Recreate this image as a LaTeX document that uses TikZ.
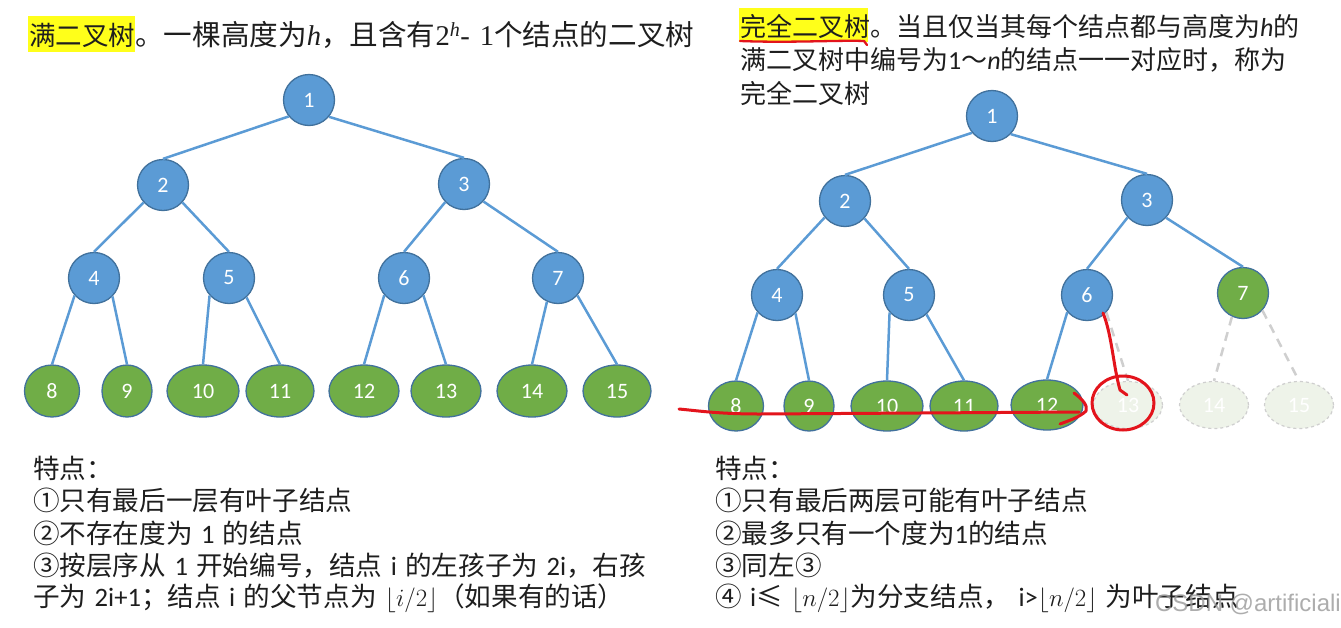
\documentclass[tikz,border=0pt]{standalone}
\usepackage{fontspec}
\setmainfont{Carlito}
\newfontfamily\cjk[WordSpace=1.4]{Noto Sans CJK SC}
\newfontfamily\lat{Carlito}
\newfontfamily\srf{Liberation Serif}
\newfontfamily\wmfont{Liberation Sans}
\usetikzlibrary{shapes.geometric}
\definecolor{nblue}{HTML}{5B9BD5}
\definecolor{nborder}{HTML}{41719C}
\definecolor{ngreen}{HTML}{70AD47}
\definecolor{fadefill}{HTML}{EEF3E9}
\definecolor{fadeline}{HTML}{CFCFCF}
\definecolor{txt}{HTML}{1E1E1E}
\definecolor{annot}{HTML}{E3141C}
\definecolor{hl}{HTML}{FFFF1A}
\tikzset{
 tn/.style={ellipse, draw=nborder, line width=1.3pt, inner sep=0pt, text=white,
   font=\lat\fontsize{22}{22}\selectfont},
 bn/.style={tn, fill=nblue, minimum width=51pt, minimum height=51pt},
 gn/.style={tn, fill=ngreen, minimum height=52pt},
 gnr/.style={tn, fill=ngreen, minimum height=50pt},
 fn/.style={ellipse, draw=fadeline, dashed, line width=1.2pt, fill=fadefill, text=white,
   inner sep=0pt, minimum height=47pt, minimum width=69pt, font=\lat\fontsize{22}{22}\selectfont},
 edge/.style={draw=nblue, line width=2.5pt},
 fedge/.style={draw=fadeline, line width=2.5pt, dash pattern=on 9pt off 7pt},
 body/.style={anchor=west, inner sep=0pt, text=txt, font=\cjk\fontsize{26}{26}\selectfont},
 feat/.style={anchor=west, inner sep=0pt, text=txt, font=\cjk\fontsize{26.6}{26.6}\selectfont},
 redmark/.style={draw=annot, line width=3pt, line cap=round, line join=round},
}
\begin{document}
\begin{tikzpicture}[x=1pt,y=-1pt]
\useasboundingbox (0,0) rectangle (1341,627);
\fill[white] (0,0) rectangle (1341,627);

% ---------- left title ----------
\fill[hl] (28,16) rectangle (135,52);
\node[body] (tl) at (29,35) {\fontsize{26.5}{26.5}\selectfont 满二叉树\fontsize{28.6}{28.6}\selectfont 。一棵高度为{\srf\itshape h}，且含有{\srf 2\textsuperscript{\itshape h}-\hspace{0.35em}1}个结点的二叉树};

% ---------- right title ----------
\fill[hl] (739,8) rectangle (868,42);
\node[body] (tr1) at (740,26) {完全二叉树。当且仅当其每个结点都与高度为{\lat\itshape h}的};
\node[body] (tr2) at (740,60) {满二叉树中编号为{\lat 1}～{\lat\itshape n}的结点一一对应时，称为};
\node[body] (tr3) at (740,93) {完全二叉树};

% ---------- left tree ----------
\node[bn] (L1) at (309,100) {1};
\node[bn] (L2) at (163,185) {2};
\node[bn] (L3) at (464,184) {3};
\node[bn] (L4) at (94,278) {4};
\node[bn] (L5) at (229,278) {5};
\node[bn] (L6) at (404,278) {6};
\node[bn] (L7) at (558,278) {7};
\node[gn, minimum width=55pt] (L8) at (52,391) {8};
\node[gn, minimum width=50pt] (L9) at (127,391) {9};
\node[gn, minimum width=72pt] (L10) at (203,391) {10};
\node[gn, minimum width=68pt] (L11) at (280,391) {11};
\node[gn, minimum width=70pt] (L12) at (364,391) {12};
\node[gn, minimum width=70pt] (L13) at (446,391) {13};
\node[gn, minimum width=70pt] (L14) at (532,391) {14};
\node[gn, minimum width=68pt] (L15) at (617,391) {15};

\draw[edge] (L1.219) -- (L2.north);
\draw[edge] (L1.320) -- (L3.north);
\draw[edge] (L2.222) -- (L4.north);
\draw[edge] (L2.318) -- (L5.north);
\draw[edge] (L3.224) -- (L6.north);
\draw[edge] (L3.318) -- (L7.north);
\draw[edge] (L4.222) -- (L8.north);
\draw[edge] (L4.315) -- (L9.north);
\draw[edge] (L5.222) -- (L10.north);
\draw[edge] (L5.312) -- (L11.north);
\draw[edge] (L6.221) -- (L12.north);
\draw[edge] (L6.318) -- (L13.north);
\draw[edge] (L7.245) -- (L14.north);
\draw[edge] (L7.318) -- (L15.north);

% ---------- right tree ----------
\node[bn] (R1) at (992,116) {1};
\node[bn] (R2) at (845,201) {2};
\node[bn] (R3) at (1147,200) {3};
\node[bn] (R4) at (777,295) {4};
\node[bn] (R5) at (909,295) {5};
\node[bn] (R6) at (1087,295) {6};
\node[tn, fill=ngreen, minimum width=51pt, minimum height=51pt] (R7) at (1243,293) {7};
\node[gnr, minimum width=55pt] (R8) at (736,406) {8};
\node[gnr, minimum width=50pt] (R9) at (809,406) {9};
\node[gnr, minimum width=72pt] (R10) at (887,406) {10};
\node[gnr, minimum width=68pt] (R11) at (964,406) {11};
\node[gnr, minimum width=72pt] (R12) at (1047,405) {12};
\node[fn] (R13) at (1128,405) {13};
\node[fn] (R14) at (1214,405) {14};
\node[fn] (R15) at (1299,405) {15};

\draw[edge] (R1.220) -- (R2.north);
\draw[edge] (R1.316) -- (R3.north);
\draw[edge] (R2.219) -- (R4.north);
\draw[edge] (R2.318) -- (R5.north);
\draw[edge] (R3.222) -- (R6.north);
\draw[edge] (R3.317) -- (R7.north);
\draw[edge] (R4.222) -- (R8.north);
\draw[edge] (R4.315) -- (R9.north);
\draw[edge] (R5.222) -- (R10.north);
\draw[edge] (R5.312) -- (R11.north);
\draw[edge] (R6.221) -- (R12.north);
\draw[fedge] (R6.318) -- (R13.north);
\draw[fedge] (R7.245) -- (R14.north);
\draw[fedge] (R7.318) -- (R15.north);

% ---------- left features ----------
\node[feat] (fl0) at (33,468) {特点：};
\node[feat] (fl1) at (33,500.5) {①只有最后一层有叶子结点};
\node[feat] (fl2) at (33,533) {②不存在度为 {\lat 1} 的结点};
\node[feat] (fl3) at (33,565.5) {③按层序从 {\lat 1} 开始编号，结点 {\lat i} 的左孩子为 {\lat 2i}，右孩};
\node[feat] (fl4) at (33,598) {子为 {\lat 2i+1}；结点 {\lat i} 的父节点为 $\lfloor i/2\rfloor$（如果有的话）};

% ---------- right features ----------
\node[feat] (fr0) at (715,468) {特点：};
\node[feat] (fr1) at (715,500.5) {①只有最后两层可能有叶子结点};
\node[feat] (fr2) at (715,533) {②最多只有一个度为{\lat 1}的结点};
\node[feat] (fr3) at (715,565.5) {③同左③};
\node[feat] (fr4) at (715,598) {④ {\lat i}≤ $\lfloor n/2\rfloor$为分支结点， {\lat i>}$\lfloor n/2\rfloor$ 为叶子结点};

% ---------- watermark ----------
\node[anchor=east, inner sep=0pt, text=black!40, opacity=0.8, font=\wmfont\fontsize{24}{24}\selectfont] (wm) at (1341,604) {CSDN @artificiali};

% ---------- red annotations ----------
\draw[redmark, line width=2.3pt] (740,41) .. controls (790,43) and (840,40) .. (864,41) -- (867,45);
\draw[redmark] (679,409) .. controls (700,411) and (720,414) .. (760,414) -- (1079,412);
\draw[redmark] (1074,393) .. controls (1082,399) and (1088,405) .. (1086,411) .. controls (1080,417) and (1068,421) .. (1060,424);
\draw[redmark] (1103,313) .. controls (1112,335) and (1113,365) .. (1120,390) -- (1127,395);
\draw[redmark] (1123,403) ellipse [x radius=31, y radius=27];
\end{tikzpicture}
\end{document}
